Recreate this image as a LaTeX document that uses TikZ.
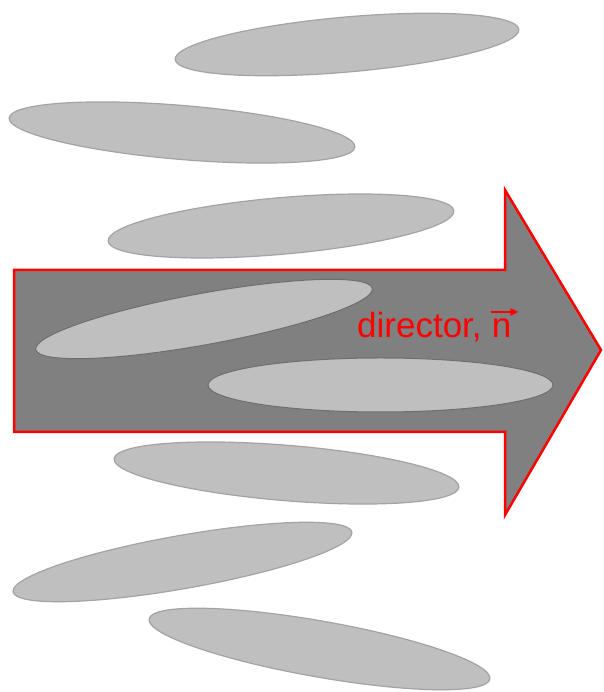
\documentclass[tikz,border=0pt]{standalone}
\usepackage{fontspec}
\setmainfont{Liberation Sans}
\usetikzlibrary{arrows.meta,calc}
\definecolor{molfill}{HTML}{BFBFBF}
\definecolor{moledge}{HTML}{A3A3A3}
\definecolor{moledgein}{HTML}{6E6E6E}
\definecolor{arrowfill}{HTML}{808080}
\definecolor{dirred}{HTML}{FF0000}
\begin{document}
\begin{tikzpicture}[x=1pt,y=1pt,
  mol/.style={fill=molfill,draw=moledge,line width=1.2pt},
  molin/.style={fill=molfill,draw=moledgein,line width=1pt},
  dirarrow/.style={fill=arrowfill,draw=dirred,line width=2.5pt,line join=miter},
  dirlabel/.style={text=dirred,font=\fontsize{35}{42}\selectfont,inner sep=0pt},
  vecarrow/.style={draw=dirred,line width=2pt,-{Triangle[length=8pt,width=7pt]}}]
\useasboundingbox (0,0) rectangle (603,692);
% molecules above the arrow
\draw[mol,rotate around={5:(347,647.5)}] (347,647.5) ellipse (172.5 and 27.5);
\draw[mol,rotate around={-4.8:(182,559.5)}] (182,559.5) ellipse (173.5 and 27);
\draw[mol,rotate around={5:(281,466)}] (281,466) ellipse (173.5 and 28.3);
% director arrow
\draw[dirarrow] (14,422) -- (505,422) -- (505,502) -- (601,342) -- (505,177) -- (505,260) -- (14,260) -- cycle;
% molecules over the arrow
\draw[molin,rotate around={10.3:(204,373)}] (204,373) ellipse (171 and 25.7);
\draw[molin] (380.5,307) ellipse (172.5 and 27);
\node[dirlabel,anchor=base west] (dir) at (357,354) {director,};
\node[dirlabel,anchor=base west] (vn) at ($(dir.base east)+(9.7,0)$) {n};
\draw[vecarrow] ($(vn.north west)+(-1,7)$) -- ($(vn.north east)+(7,7)$);
% molecules below the arrow
\draw[mol,rotate around={-4.7:(286.5,219)}] (286.5,219) ellipse (173 and 27.7);
\draw[mol,rotate around={10:(182.5,130)}] (182.5,130) ellipse (172 and 26.6);
\draw[mol,rotate around={-10:(319.5,43)}] (319.5,43) ellipse (173 and 28);
\end{tikzpicture}
\end{document}
